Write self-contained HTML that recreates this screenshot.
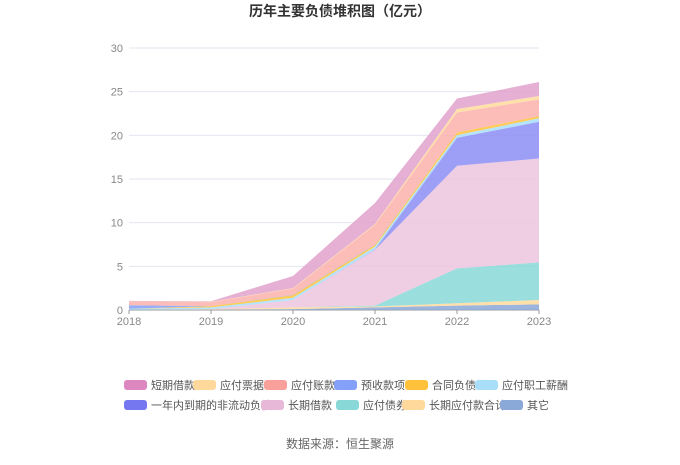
<!DOCTYPE html>
<html><head><meta charset="utf-8"><style>
body{margin:0;background:#fff;font-family:"Liberation Sans","Noto Sans CJK SC",sans-serif}
</style></head><body>
<svg id="c" width="680" height="460" xmlns="http://www.w3.org/2000/svg">
<text x="340" y="16" text-anchor="middle" font-size="14" font-weight="bold" fill="#333" font-family="Liberation Sans,Noto Sans CJK SC,sans-serif">历年主要负债堆积图（亿元）</text>
<text x="340" y="448" text-anchor="middle" font-size="12" fill="#666" font-family="Liberation Sans,Noto Sans CJK SC,sans-serif">数据来源：恒生聚源</text>
</svg>
<script>
const years=["2018","2019","2020","2021","2022","2023"];
const yTicks=[0,5,10,15,20,25,30];
const seriesNames=["其它","长期应付款合计","应付债券","长期借款","一年内到期的非流动负债","应付职工薪酬","合同负债","预收款项","应付账款","应付票据","短期借款"];
const sQita=[0.05,0.05,0.1,0.3,0.5,0.65];
const sChangqiYingfu=[0,0.05,0.2,0.1,0.27,0.5];
const sZhaiquan=[0,0,0,0.1,4.0,4.3];
const sChangqiJiekuan=[0,0,0.85,6.4,11.75,11.9];
const sYinian=[0,0,0,0.05,3.2,4.2];
const sZhigong=[0.1,0.2,0.25,0.3,0.3,0.4];
const sHetong=[0,0.15,0.3,0.2,0.3,0.25];
const sYushou=[0.4,0,0.05,0.05,0,0];
const sZhangkuan=[0.45,0.45,0.7,2.25,2.3,1.9];
const sPiaoju=[0,0.05,0.05,0.1,0.4,0.4];
const sDuanqi=[0.05,0.05,1.4,2.4,1.2,1.6];
const seriesData=[sQita,sChangqiYingfu,sZhaiquan,sChangqiJiekuan,sYinian,sZhigong,sHetong,sYushou,sZhangkuan,sPiaoju,sDuanqi];
const colors=["#8aa8d8","#ffd99b","#88d8d8","#ecc4de","#8c8ef5","#a8def8","#ffc23a","#84a0f8","#fbb0ac","#ffd99b","#e0a2cc"];
const legendOrder=["短期借款","应付票据","应付账款","预收款项","合同负债","应付职工薪酬","一年内到期的非流动负债","长期借款","应付债券","长期应付款合计","其它"];
const legendColors=["#dd87c0","#ffd99b","#f9a09a","#84a0f8","#ffc23a","#a8def8","#7577f0","#e8b8d8","#88d8d8","#ffd99b","#8aa8d8"];
const NS="http://www.w3.org/2000/svg",svg=document.getElementById("c");
const x0=129,x1=539,yb=310,yt=48,ymax=30;
const X=i=>x0+(x1-x0)*i/(years.length-1);
const Y=v=>yb-(yb-yt)*v/ymax;
function mk(t,a,p){const e=document.createElementNS(NS,t);for(const k in a)e.setAttribute(k,a[k]);(p||svg).appendChild(e);return e;}
yTicks.forEach(v=>{
 const l=mk("line",{x1:x0,x2:x1,y1:Y(v),y2:Y(v),stroke:v===0?"#999":"#e3e6ef","stroke-width":1});
 
 
 const t=mk("text",{x:x0-6,y:Y(v)+4,"text-anchor":"end","font-size":11,fill:"#888"});t.textContent=v;
 
 
});
let cum=years.map(()=>0);
seriesData.forEach((s,si)=>{
 const lo=cum.slice(),hi=cum.map((c,i)=>c+s[i]);
 let d="M"+years.map((_,i)=>X(i)+","+Y(hi[i])).join("L");
 d+="L"+years.map((_,i)=>i).reverse().map(i=>X(i)+","+Y(lo[i])).join("L")+"Z";
 const p=mk("path",{d:d,fill:colors[si],"fill-opacity":0.85,stroke:"none"});
 
 
 cum=hi;
});
years.forEach((y,i)=>{
 mk("line",{x1:X(i),x2:X(i),y1:yb,y2:yb+4,stroke:"#999"});
 const t=mk("text",{x:X(i),y:yb+15,"text-anchor":"middle","font-size":11,fill:"#888"});t.textContent=y;
 
 
});
const lx=[124,193,264,334,405,475,124,261,336,402,500];
legendOrder.forEach((n,i)=>{
 const g=mk("g",{});
 
 
 const yy=i<6?385:405;
 mk("rect",{x:lx[i],y:yy-5,width:23,height:10,rx:3,fill:legendColors[i]},g);
 const t=mk("text",{x:lx[i]+27,y:yy+4,"font-size":11,fill:"#555"},g);t.textContent=n;
});
</script>
</body></html>
